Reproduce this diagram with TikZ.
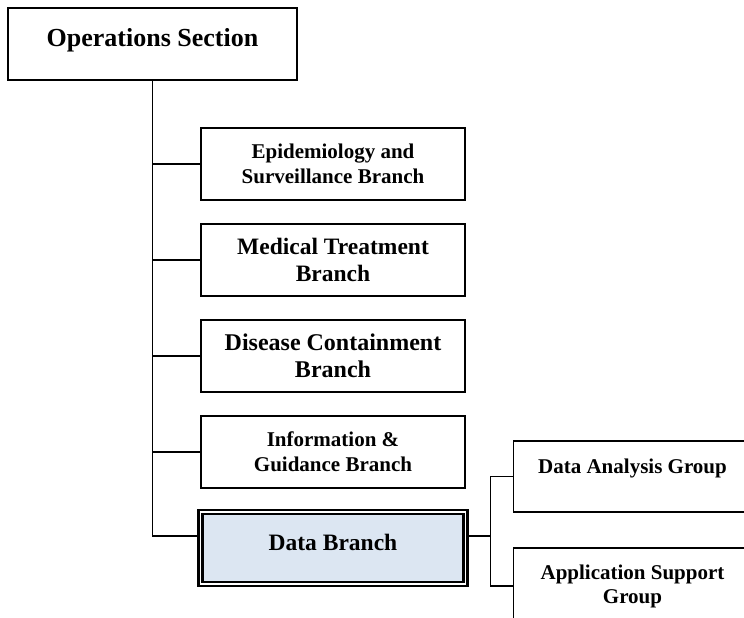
\documentclass[tikz,border=0pt]{standalone}
\usepackage{fontspec}
\setmainfont{Liberation Serif}
\definecolor{databg}{RGB}{220,230,242}

\begin{document}
\begin{tikzpicture}[x=1pt,y=1pt]
   \tikzstyle{every node}=[node distance=96pt]
   \tikzstyle{branch}=[draw,line width=1.5pt,align=center,minimum width=264pt,minimum height=72pt]
   \tikzstyle{link}=[line width=1.3pt]

   \useasboundingbox (0,0) rectangle (744,618);

   \node (ops) [branch,minimum width=289pt,text depth=14pt,font=\bfseries\fontsize{26}{30}\selectfont] at (152.5,574) {Operations Section} ;
   \node (epi) [branch,below of=ops,yshift=-24pt,xshift=180.5pt,font=\bfseries\fontsize{21}{25}\selectfont] {Epidemiology and\\Surveillance Branch} ;
   \node (med) [branch,below of=epi,font=\bfseries\fontsize{23.5}{27}\selectfont] {Medical Treatment\\Branch} ;
   \node (dis) [branch,below of=med,font=\bfseries\fontsize{24}{27}\selectfont] {Disease Containment\\Branch} ;
   \node (inf) [branch,below of=dis,font=\bfseries\fontsize{21}{25}\selectfont] {Information \&\\Guidance Branch} ;
   \node (db) [branch,below of=inf,minimum width=265pt,text depth=12pt,fill=databg,line width=2.2pt,double,double distance=1.8pt,font=\bfseries\fontsize{23.5}{27}\selectfont] {Data Branch} ;

   \node (da) [branch,node distance=299.5pt,right of=db,yshift=71.5pt,minimum width=238pt,minimum height=71pt,text depth=21pt,font=\bfseries\fontsize{21}{25}\selectfont] {Data Analysis Group} ;
   \node (as) [branch,node distance=109.5pt,below of=da,minimum width=238pt,minimum height=76pt,font=\bfseries\fontsize{21}{24}\selectfont] {Application Support\\Group} ;

   \draw [link] (ops.south) |- (epi.west) ;
   \draw [link] (ops.south) |- (med.west) ;
   \draw [link] (ops.south) |- (dis.west) ;
   \draw [link] (ops.south) |- (inf.west) ;
   \draw [link] (ops.south) |- ([yshift=12pt]db.west) ;

   \draw [link] ([yshift=12pt]db.east) -- ++(24pt,0) coordinate (fork) ;
   \draw [link] (fork) |- (da.west) ;
   \draw [link] (fork) |- (as.west) ;

\end{tikzpicture}
\end{document}
